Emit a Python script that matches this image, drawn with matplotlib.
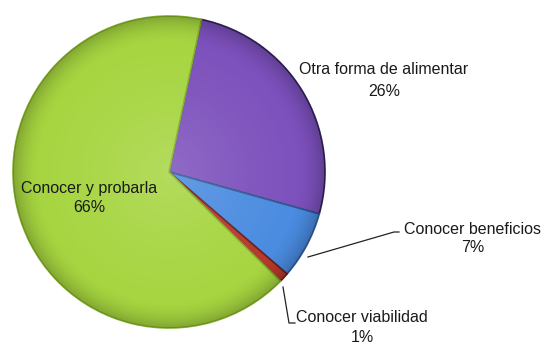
import matplotlib
matplotlib.use("Agg")
import matplotlib.pyplot as plt
import numpy as np
from matplotlib.patches import Circle

categories = ["Otra forma de alimentar", "Conocer beneficios",
              "Conocer viabilidad", "Conocer y probarla"]
values = [26, 7, 1, 66]
pct_labels = ["26%", "7%", "1%", "66%"]
colors = ["#7c50bc", "#4a8be0", "#b8382c", "#a6d540"]
edge_colors = ["#2e2357", "#2d5a94", "#6b1f18", "#82ad2a"]

W, H = 550, 346
fig = plt.figure(figsize=(W / 100, H / 100), dpi=100)
ax = fig.add_axes([0, 0, 1, 1])

cx, cy, r = 169, H - 172, 156
wedges, _ = ax.pie(values, colors=colors, startangle=78, counterclock=False,
                   center=(cx, cy), radius=r, frame=True,
                   wedgeprops=dict(linewidth=1.2))
for w, ec in zip(wedges, edge_colors):
    w.set_edgecolor(ec)
ax.set_xlim(0, W)
ax.set_ylim(0, H)
ax.set_aspect("equal")
ax.axis("off")

# soft bevel shading over the pie
n = 400
yy, xx = np.mgrid[-1:1:n * 1j, -1:1:n * 1j]
rr = np.sqrt(xx ** 2 + yy ** 2)
ext = (cx - r, cx + r, cy - r, cy + r)
light = np.zeros((n, n, 4))
light[..., :3] = 1.0
light[..., 3] = np.clip(1 - rr, 0, 1) ** 1.5 * 0.16
dark = np.zeros((n, n, 4))
dark[..., 3] = np.clip((rr - 0.82) / 0.18, 0, 1) ** 2 * 0.22
for layer in (light, dark):
    im = ax.imshow(layer, extent=ext, zorder=3, interpolation="bilinear")
    im.set_clip_path(Circle((cx, cy), r, transform=ax.transData))
ax.set_xlim(0, W)
ax.set_ylim(0, H)

font = dict(family="Liberation Sans", fontsize=11.5, color="#1a1a1a")

def label(x, y1, y2, name, pct):
    ax.text(x, H - y1, name, ha="center", va="center", **font)
    ax.text(x, H - y2, pct, ha="center", va="center", **font)

# Otra forma de alimentar
label(384, 70, 91, categories[0], pct_labels[0])

# Conocer beneficios with leader line
ax.plot([308, 394, 399], [H - 257, H - 232, H - 232], color="#222222", lw=0.9)
label(473, 229, 248, categories[1], pct_labels[1])

# Conocer viabilidad with leader line
ax.plot([283, 289, 295], [H - 287, H - 323, H - 323], color="#222222", lw=0.9)
label(362, 318, 338, categories[2], pct_labels[2])

# Conocer y probarla, inside its wedge
label(89, 189, 207, categories[3], pct_labels[3])

fig.savefig("out.png", dpi=100, facecolor="white")
